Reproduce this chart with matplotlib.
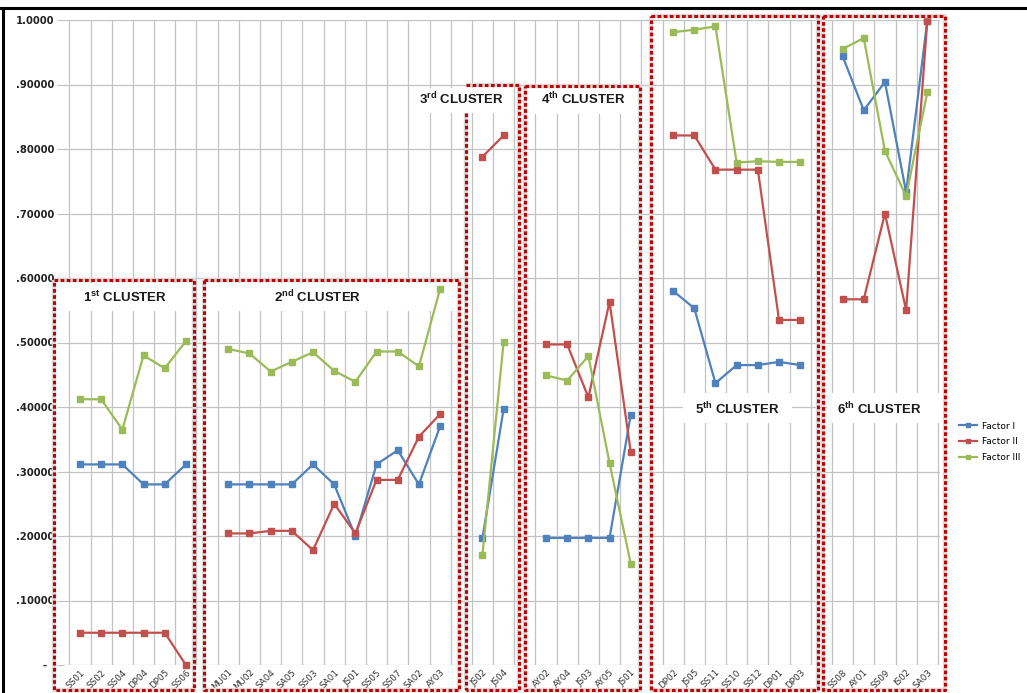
import matplotlib
matplotlib.use("Agg")
import matplotlib.pyplot as plt
import numpy as np
from matplotlib.patches import Rectangle
from matplotlib.lines import Line2D

# ---------------- data ----------------
cluster_names = ["1st", "2nd", "3rd", "4th", "5th", "6th"]

c1_labels = ["SS01", "SS02", "SS04", "DP04", "DP05", "SS06"]
c2_labels = ["MU01", "MU02", "SA04", "SA05", "SS03", "SA01", "JS01", "SS05", "SS07", "SA02", "AY03"]
c3_labels = ["JS02", "JS04"]
c4_labels = ["AY02", "AY04", "JS03", "AY05", "JS01"]
c5_labels = ["DP02", "JS05", "SS11", "SS10", "SS12", "DP01", "DP03"]
c6_labels = ["SS08", "AY01", "SS09", "IS02", "SA03"]

f1_c1 = [0.311, 0.311, 0.311, 0.280, 0.280, 0.311]
f2_c1 = [0.050, 0.050, 0.050, 0.050, 0.050, 0.000]
f3_c1 = [0.412, 0.412, 0.365, 0.480, 0.460, 0.502]

f1_c2 = [0.280, 0.280, 0.280, 0.280, 0.311, 0.280, 0.200, 0.311, 0.333, 0.280, 0.370]
f2_c2 = [0.204, 0.204, 0.208, 0.208, 0.178, 0.250, 0.204, 0.287, 0.287, 0.354, 0.389]
f3_c2 = [0.490, 0.483, 0.455, 0.470, 0.485, 0.456, 0.439, 0.486, 0.486, 0.463, 0.583]

f1_c3 = [0.197, 0.397]
f2_c3 = [0.788, 0.821]
f3_c3 = [0.171, 0.501]

f1_c4 = [0.197, 0.197, 0.197, 0.197, 0.388]
f2_c4 = [0.497, 0.497, 0.415, 0.563, 0.330]
f3_c4 = [0.449, 0.441, 0.479, 0.313, 0.157]

f1_c5 = [0.580, 0.553, 0.437, 0.465, 0.465, 0.470, 0.465]
f2_c5 = [0.821, 0.821, 0.768, 0.768, 0.768, 0.535, 0.535]
f3_c5 = [0.981, 0.985, 0.990, 0.779, 0.781, 0.780, 0.780]

f1_c6 = [0.944, 0.860, 0.904, 0.733, 0.999]
f2_c6 = [0.567, 0.567, 0.700, 0.550, 0.999]
f3_c6 = [0.955, 0.972, 0.797, 0.727, 0.888]

series_names = ["Factor I", "Factor II", "Factor III"]
ytick_vals = [0.0, 0.1, 0.2, 0.3, 0.4, 0.5, 0.6, 0.7, 0.8, 0.9, 1.0]
ytick_labels = ["-  ", ".10000", ".20000", ".30000", ".40000", ".50000",
                ".60000", ".70000", ".80000", ".90000", "1.0000"]

cluster_labels = [c1_labels, c2_labels, c3_labels, c4_labels, c5_labels, c6_labels]
factor_data = [
    [f1_c1, f1_c2, f1_c3, f1_c4, f1_c5, f1_c6],
    [f2_c1, f2_c2, f2_c3, f2_c4, f2_c5, f2_c6],
    [f3_c1, f3_c2, f3_c3, f3_c4, f3_c5, f3_c6],
]

# ---------------- figure ----------------
W, H = 1027, 693
fig = plt.figure(figsize=(W / 100, H / 100), dpi=100)
fig.patch.set_facecolor("white")
plt.rcParams["mathtext.fontset"] = "custom"
plt.rcParams["mathtext.rm"] = "Liberation Sans:bold"
plt.rcParams["mathtext.bf"] = "Liberation Sans:bold"


def fx(px):
    return px / W


def fy(py):
    return 1 - py / H


ax = fig.add_axes([fx(64), fy(665), fx(940) - fx(64), fy(20) - fy(665)])

# x positions: clusters separated by one empty slot
positions = []
all_labels = []
idx = 0
for labs in cluster_labels:
    positions.append(list(range(idx, idx + len(labs))))
    all_labels.extend(labs)
    idx += len(labs) + 1
n_slots = idx - 1
all_pos = [p for ps in positions for p in ps]

colors = ["#4F81BD", "#C0504D", "#9BBB59"]

for k in range(3):
    for ci in range(len(cluster_labels)):
        ax.plot(positions[ci], factor_data[k][ci], color=colors[k], lw=1.6,
                marker="s", markersize=4, zorder=5 + k * 0.1, clip_on=False)

ax.set_xlim(-0.755, 40.6)
ax.set_ylim(0, 1.0)

# gridlines
for b in range(n_slots + 1):
    ax.axvline(b - 0.5, color="#c3c3c3", lw=0.9, zorder=1)
for v in ytick_vals:
    ax.axhline(v, color="#c3c3c3", lw=0.9, zorder=1)

for s in ax.spines.values():
    s.set_visible(False)

ax.set_yticks(ytick_vals)
ax.set_yticklabels(ytick_labels, fontsize=7.2, fontweight="bold", color="#222222")
ax.tick_params(axis="y", length=5, color="#c3c3c3", pad=2)

ax.set_xticks(all_pos)
ax.set_xticklabels(all_labels, rotation=45, ha="right", va="top",
                   rotation_mode="anchor", fontsize=6.3, color="#333333")
ax.tick_params(axis="x", length=0, pad=2)

# white label boxes (inside axes so data lines stay on top)
label_boxes = [
    (57, 283, 191, 311),
    (207, 283, 456, 311),
    (414, 88, 513, 113),
    (527, 88, 637, 114),
    (683, 393, 792, 423),
    (827, 393, 940, 423),
]
for (x0, y0, x1, y1) in label_boxes:
    ax.add_patch(Rectangle((fx(x0), fy(y1)), fx(x1) - fx(x0), fy(y0) - fy(y1),
                           transform=fig.transFigure, facecolor="white",
                           edgecolor="none", zorder=3, clip_on=False))

# cluster label text
label_pos = [(125, 297), (318, 297), (462, 99), (583, 99), (737, 409), (879, 409)]
for name, (px, py) in zip(cluster_names, label_pos):
    num, suf = name[0], name[1:]
    ax.text(fx(px), fy(py), num + r"$^{\mathrm{" + suf + r"}}$" + " CLUSTER",
            transform=fig.transFigure, ha="center", va="center", fontsize=9.5,
            fontweight="bold", family="Liberation Sans", color="#1a1a1a",
            zorder=4, clip_on=False)

# dotted cluster boxes
def dotted(xs, ys):
    fx_ = [fx(v) for v in xs]
    fy_ = [fy(v) for v in ys]
    fig.lines.append(Line2D(fx_, fy_, transform=fig.transFigure, color="#dcdcdc",
                            lw=3.2, zorder=7, solid_capstyle="butt"))
    fig.lines.append(Line2D(fx_, fy_, transform=fig.transFigure, color="#C00000",
                            lw=2.2, linestyle=(0, (1.2, 0.8)), zorder=8,
                            dash_capstyle="butt"))

boxes = [
    (54, 280, 194, 690),
    (204, 280, 459, 690),
    (466, 85, 519, 690),
    (525, 86, 640, 690),
    (651, 16, 818, 690),
    (823, 16, 945, 690),
]
for i, (x0, y0, x1, y1) in enumerate(boxes):
    if i == 2:
        dotted([x0, x0], [113, y1])
        dotted([x0, x1, x1, x0], [y0, y0, y1, y1])
    else:
        dotted([x0, x1, x1, x0, x0], [y0, y0, y1, y1, y0])

# frame lines (top and left)
fig.lines.append(Line2D([0, 1], [fy(8), fy(8)], transform=fig.transFigure,
                        color="black", lw=2.2, zorder=9))
fig.lines.append(Line2D([fx(3), fx(3)], [fy(8), 0], transform=fig.transFigure,
                        color="black", lw=2.2, zorder=9))

# legend
handles = [Line2D([], [], color=c, lw=1.6, marker="s", markersize=3.5) for c in colors]
fig.legend(handles, series_names, loc="upper left",
           bbox_to_anchor=(fx(955), fy(418)), frameon=False, fontsize=6.5,
           handlelength=2.0, labelspacing=0.75, handletextpad=0.6, borderaxespad=0)

fig.savefig("out.png", dpi=100, facecolor="white")
